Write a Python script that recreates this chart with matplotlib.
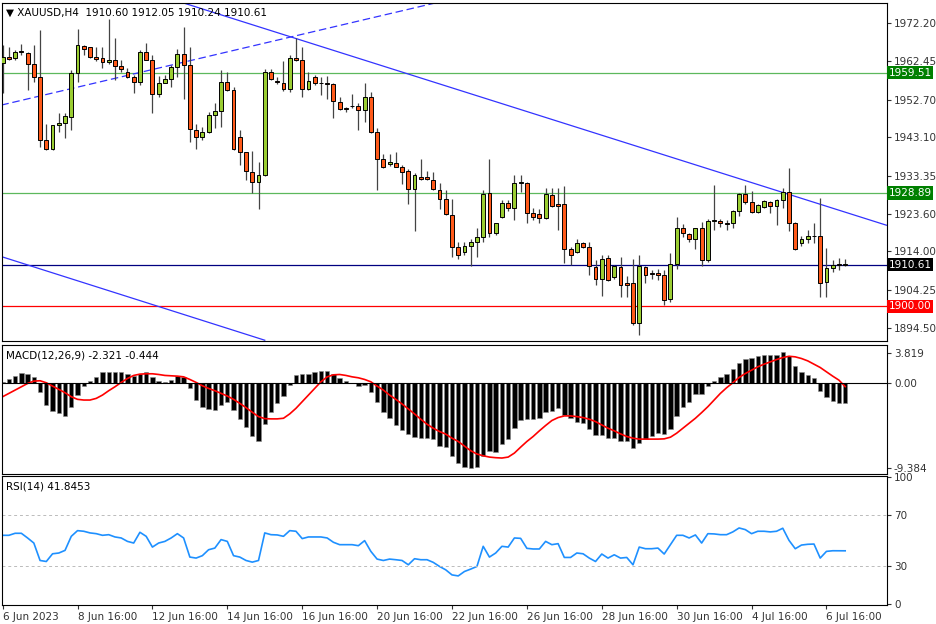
import matplotlib
matplotlib.use("Agg")
import matplotlib.pyplot as plt
import numpy as np

opens = [1961.9,1963.6,1963.2,1964.9,1964.6,1961.7,1958.5,1942.4,1940.0,1946.2,1946.7,1948.3,1959.4,1966.3,1966.0,1963.6,1963.4,1962.3,1962.9,1961.3,
1959.6,1958.4,1957.1,1964.9,1962.9,1954.1,1957.0,1957.9,1961.1,1964.3,1961.5,1944.9,1943.2,1944.4,1948.8,1949.9,1957.3,1955.1,1943.2,1939.3,
1934.2,1931.6,1933.5,1959.6,1957.4,1956.8,1955.3,1963.2,1962.7,1955.3,1958.5,1957.0,1956.8,1956.6,1952.2,1950.6,1951.1,1951.1,1950.0,1953.3,
1944.5,1937.5,1936.3,1936.6,1935.6,1934.6,1929.8,1933.1,1933.1,1932.1,1929.7,1927.3,1923.3,1915.2,1913.9,1915.4,1916.3,1917.6,1928.8,1918.6,
1922.7,1926.3,1925.0,1931.5,1931.5,1923.7,1923.5,1922.6,1928.4,1926.1,1926.1,1914.6,1913.9,1916.1,1915.2,1910.0,1906.9,1912.3,1907.4,1910.0,
1906.1,1906.1,1895.9,1910.0,1908.4,1908.6,1908.0,1901.8,1910.8,1919.9,1918.4,1917.1,1919.9,1911.8,1921.8,1921.8,1921.2,1921.2,1924.3,1928.6,
1926.7,1924.0,1925.4,1926.7,1925.6,1927.1,1929.2,1921.3,1916.1,1917.1,1917.9,1917.9,1906.3,1909.7,1910.7,1910.60]
closes = [1963.6,1963.1,1964.9,1964.8,1961.8,1958.5,1942.4,1940.0,1946.2,1946.7,1948.5,1959.4,1966.6,1965.5,1963.5,1963.1,1962.3,1962.9,1961.2,1960.5,
1958.4,1957.1,1964.9,1962.9,1954.1,1957.0,1957.9,1960.9,1964.2,1961.5,1945.1,1943.1,1944.4,1948.8,1949.9,1957.3,1955.1,1940.0,1939.4,1934.6,
1931.6,1933.5,1959.6,1957.9,1957.1,1955.3,1963.2,1962.7,1955.3,1957.4,1956.8,1956.8,1956.7,1952.3,1950.2,1950.3,1951.0,1950.0,1953.3,1944.5,
1937.5,1935.4,1936.7,1935.6,1934.3,1929.8,1933.5,1932.4,1932.4,1929.8,1927.3,1923.5,1915.2,1913.1,1915.5,1916.3,1917.6,1928.6,1918.6,1921.2,
1926.3,1925.0,1931.5,1931.5,1923.7,1922.9,1922.6,1928.6,1925.6,1925.6,1914.6,1913.1,1916.1,1915.1,1910.2,1906.9,1912.0,1906.7,1910.2,1905.5,
1905.5,1895.9,1910.2,1908.0,1908.3,1908.0,1901.7,1910.8,1919.9,1918.8,1917.1,1919.9,1911.8,1921.8,1921.8,1921.2,1921.0,1924.3,1928.6,1926.7,
1924.0,1925.8,1926.9,1925.6,1927.1,1929.2,1921.3,1914.6,1917.1,1917.9,1917.9,1906.1,1909.7,1910.6,1910.6,1910.61]
highs = [1966.6,1966.2,1965.3,1966.8,1964.9,1966.6,1970.4,1946.6,1946.2,1949.2,1949.2,1960.2,1970.8,1966.6,1966.2,1966.2,1966.2,1973.2,1968.3,1962.8,
1960.7,1958.9,1965.3,1967.0,1964.1,1958.7,1958.9,1961.5,1965.5,1971.3,1966.2,1946.6,1945.8,1949.6,1951.7,1960.2,1959.6,1956.0,1944.9,1939.4,
1939.7,1936.7,1960.4,1960.4,1958.4,1962.4,1964.1,1968.3,1966.2,1959.8,1958.9,1958.5,1958.7,1956.8,1953.4,1950.9,1954.1,1951.7,1956.8,1954.7,
1945.4,1938.8,1938.8,1939.4,1936.0,1934.9,1933.9,1937.5,1934.6,1934.3,1931.5,1929.7,1927.3,1916.5,1916.5,1917.1,1919.9,1929.7,1937.5,1921.3,
1927.1,1927.1,1933.5,1933.5,1931.8,1925.0,1924.7,1930.3,1930.3,1930.3,1930.7,1915.2,1917.1,1916.5,1916.5,1911.8,1913.1,1913.1,1910.6,1912.7,
1907.8,1912.0,1913.1,1910.3,1909.3,1909.5,1909.3,1913.7,1922.9,1921.0,1918.8,1919.9,1921.6,1922.2,1930.9,1922.2,1921.9,1924.6,1929.0,1930.9,
1929.5,1926.1,1927.1,1926.9,1927.3,1930.3,1935.2,1921.6,1917.9,1919.6,1921.3,1927.6,1914.8,1911.8,1912.3,1912.05]
lows = [1954.3,1962.8,1962.8,1964.1,1955.1,1957.3,1940.7,1939.9,1939.9,1944.5,1942.8,1944.9,1957.3,1964.1,1963.2,1962.4,1960.7,1961.8,1957.7,1959.8,
1958.1,1954.3,1956.4,1962.8,1949.2,1953.4,1956.8,1956.0,1958.4,1952.8,1942.0,1940.0,1942.4,1944.1,1945.4,1945.8,1955.0,1939.9,1936.0,1932.2,
1929.0,1924.7,1933.2,1957.7,1956.7,1955.0,1954.7,1962.6,1953.4,1955.1,1956.4,1953.9,1952.8,1947.9,1950.0,1949.6,1950.5,1944.9,1947.1,1944.3,
1929.7,1935.2,1935.9,1935.4,1931.2,1926.1,1919.1,1932.2,1932.2,1929.7,1924.7,1923.3,1912.7,1912.0,1913.1,1910.2,1912.7,1916.5,1917.8,1918.2,
1922.5,1924.2,1922.0,1929.2,1921.3,1922.0,1921.2,1922.2,1925.4,1919.5,1911.0,1910.6,1913.5,1914.8,1908.0,1905.5,1902.7,1906.6,1906.9,1902.5,
1902.5,1895.3,1892.7,1906.1,1906.9,1906.7,1900.4,1901.2,1909.5,1917.8,1916.5,1914.6,1910.2,1911.4,1919.5,1920.2,1919.5,1919.9,1923.0,1926.1,
1923.9,1923.7,1925.0,1923.7,1920.8,1925.0,1919.1,1914.4,1915.4,1916.1,1916.1,1902.5,1902.5,1908.9,1909.3,1910.24]

macd_hist = [0.10,0.42,0.80,1.10,1.06,0.68,-1.03,-2.55,-3.19,-3.50,-3.76,-2.81,-1.41,-0.38,0.19,0.68,1.18,1.22,1.22,1.22,
0.99,0.76,1.06,1.18,0.61,0.23,0.11,0.30,0.76,0.68,-0.65,-1.98,-2.81,-3.04,-3.12,-2.55,-2.17,-3.12,-4.14,-5.10,
-6.16,-6.65,-4.71,-3.31,-2.28,-1.52,-0.27,0.84,0.95,1.06,1.22,1.33,1.33,1.06,0.57,0.19,-0.08,-0.38,-0.27,-1.03,
-2.24,-3.31,-3.99,-4.83,-5.40,-5.89,-6.24,-6.35,-6.35,-6.46,-7.30,-7.38,-8.37,-9.20,-9.70,-9.77,-9.70,-8.37,-7.87,-7.95,
-7.00,-6.39,-5.21,-4.26,-4.18,-4.11,-3.99,-3.38,-3.19,-2.93,-3.69,-3.99,-4.45,-4.56,-5.32,-5.97,-5.97,-6.35,-6.35,-6.62,
-6.65,-7.49,-6.92,-6.46,-6.16,-5.78,-5.86,-5.32,-3.80,-2.74,-2.17,-1.33,-1.29,-0.38,0.23,0.68,1.06,1.56,2.28,2.78,
2.89,3.04,3.16,3.16,3.23,3.50,3.04,1.90,1.25,0.87,0.49,-0.91,-1.60,-2.05,-2.36,-2.32]
macd_signal = [-1.60,-1.22,-0.84,-0.46,-0.08,0.19,0.23,0.00,-0.38,-0.76,-1.14,-1.60,-1.90,-1.98,-1.98,-1.79,-1.41,-0.91,-0.46,0.04,
0.49,0.84,0.99,1.03,1.03,0.95,0.84,0.80,0.76,0.68,0.38,0.04,-0.34,-0.65,-0.91,-1.22,-1.52,-1.90,-2.36,-2.85,
-3.38,-3.88,-4.11,-4.14,-4.14,-4.07,-3.57,-2.93,-2.17,-1.41,-0.65,0.11,0.68,0.91,0.95,0.84,0.68,0.57,0.38,0.11,
-0.38,-0.84,-1.41,-1.90,-2.43,-3.00,-3.57,-4.18,-4.75,-5.21,-5.59,-5.89,-6.35,-6.73,-7.26,-7.79,-8.17,-8.37,-8.52,-8.59,
-8.63,-8.52,-8.06,-7.38,-6.73,-6.16,-5.51,-4.90,-4.33,-3.99,-3.80,-3.80,-3.88,-3.99,-4.18,-4.45,-4.83,-5.21,-5.51,-5.86,
-6.16,-6.35,-6.46,-6.46,-6.46,-6.46,-6.43,-6.24,-5.78,-5.21,-4.64,-4.07,-3.42,-2.74,-1.98,-1.22,-0.57,0.00,0.61,1.06,
1.44,1.83,2.13,2.40,2.66,2.89,3.04,2.97,2.78,2.51,2.13,1.75,1.25,0.76,0.30,-0.44]
rsi = [54.1,54.1,55.7,55.7,52.0,48.0,34.2,33.4,39.5,40.1,42.2,53.3,57.8,57.3,56.0,55.4,54.1,54.6,52.8,52.0,
49.3,48.0,56.5,53.3,44.8,48.0,49.3,52.0,55.4,52.0,36.9,36.1,38.0,42.7,44.0,50.7,49.3,38.0,36.9,34.2,
32.9,34.2,56.0,54.6,54.4,53.3,57.8,57.3,51.5,52.8,52.8,52.8,52.0,48.6,46.7,46.7,46.7,45.9,49.9,41.4,
35.3,34.2,35.3,34.8,34.2,30.8,35.6,34.8,34.8,32.7,29.5,26.8,22.8,22.0,25.5,27.4,29.5,45.4,36.9,40.1,
45.4,44.8,52.0,51.7,43.8,43.3,43.3,49.3,46.7,47.5,36.6,36.6,40.1,39.5,36.1,33.4,39.3,36.1,38.7,36.1,
36.6,30.8,44.8,43.5,43.5,44.0,39.3,46.7,54.1,54.1,52.0,54.4,48.0,55.4,55.2,54.6,54.6,56.8,59.9,58.6,
55.4,57.3,57.3,56.8,57.3,59.7,50.1,43.5,46.4,47.0,47.2,36.1,41.4,41.9,41.9,41.85]

date_labels = ["6 Jun 2023","8 Jun 16:00","12 Jun 16:00","14 Jun 16:00","16 Jun 16:00","20 Jun 16:00",
               "22 Jun 16:00","26 Jun 16:00","28 Jun 16:00","30 Jun 16:00","4 Jul 16:00","6 Jul 16:00"]
price_ticks = [1972.20,1962.45,1952.70,1943.10,1933.35,1923.60,1914.00,1904.25,1894.50]
levels = [1959.51,1928.89,1910.61,1900.00]
level_colors = ["#5cb85c","#5cb85c","#000080","#ff0000"]
label_bg = ["#008000","#008000","#000000","#ff0000"]
trend_dashed = ([-0.2,70.1],[1951.3,1977.6])
trend_upper = ([28.4,141.6],[1977.6,1920.7])
trend_lower = ([-0.2,42.0],[1912.7,1891.4])

n = len(closes)
x = np.arange(n)
W, H = 936, 624
fig = plt.figure(figsize=(W/100, H/100), dpi=100)
plt.rcParams['font.family'] = ['DejaVu Sans']
left = 2/W; width = 885/W
ax = fig.add_axes([left, 1-341/H, width, 338/H])
ax2 = fig.add_axes([left, 1-474/H, width, 129/H])
ax3 = fig.add_axes([left, 1-605/H, width, 129/H])
xl = (-0.1, 141.7)
fs = 7.5
for a in (ax, ax2, ax3):
    a.set_xlim(*xl)
    a.yaxis.tick_right()
    a.tick_params(axis='y', labelsize=fs, length=3, pad=2, colors='#333333')
    a.set_xticks([])
    for s in a.spines.values():
        s.set_color('black'); s.set_linewidth(0.8)

# candles
bull = np.array(closes) >= np.array(opens)
ax.vlines(x, lows, highs, color='#444444', lw=0.9, zorder=2)
bodyb = np.minimum(opens, closes); bodyh = np.abs(np.array(closes)-np.array(opens))
bodyh = np.maximum(bodyh, 0.15)
cols = ['#9acd32' if b else '#ff5a1a' for b in bull]
ax.bar(x, bodyh, bottom=bodyb, width=0.62, color=cols, edgecolor='black', linewidth=0.7, zorder=3)
for lv, c in zip(levels, level_colors):
    ax.axhline(lv, color=c, lw=0.9, zorder=1)
ax.plot(*trend_dashed, color='#3333ff', lw=0.9, ls=(0, (6, 3)), zorder=1)
ax.plot(*trend_upper, color='#3333ff', lw=0.9, zorder=1)
ax.plot(*trend_lower, color='#3333ff', lw=0.9, zorder=1)
ax.set_ylim(1891.2, 1977.3)
ax.set_yticks(price_ticks)
ax.set_yticklabels([f"{v:.2f}" for v in price_ticks])
for lv, bg in zip(levels, label_bg):
    ax.text(1.002, lv, f"{lv:.2f}", transform=ax.get_yaxis_transform(), fontsize=fs,
            color='white', va='center', ha='left',
            bbox=dict(boxstyle='square,pad=0.15', fc=bg, ec='none'))
ax.text(0.004, 0.985, "\u25bc XAUUSD,H4  1910.60 1912.05 1910.24 1910.61", transform=ax.transAxes,
        fontsize=fs, va='top', ha='left', color='black')

# MACD
ax2.bar(x, macd_hist, width=0.7, color='black', edgecolor='#888888', linewidth=0.4)
ax2.plot(x, macd_signal, color='red', lw=1.2)
ax2.axhline(0, color='black', lw=0.8)
ax2.set_ylim(-10.46, 4.33)
ax2.set_yticks([3.42, 0, -9.77])
ax2.set_yticklabels(["3.819", "0.00", "-9.384"])
ax2.text(0.004, 0.96, "MACD(12,26,9) -2.321 -0.444", transform=ax2.transAxes, fontsize=fs, va='top')

# RSI
ax3.plot(x, rsi, color='#1e90ff', lw=1.2)
for lv in (70, 30):
    ax3.axhline(lv, color='#bbbbbb', lw=0.7, ls=(0, (3, 3)))
ax3.set_ylim(-1, 101)
ax3.set_yticks([100, 70, 30, 0])
ax3.text(0.004, 0.96, "RSI(14) 41.8453", transform=ax3.transAxes, fontsize=fs, va='top')
tick_idx = [12*i for i in range(len(date_labels))]
ax3.set_xticks(tick_idx)
ax3.set_xticklabels(date_labels, ha='left', fontsize=fs)
ax3.tick_params(axis='x', length=3, pad=2, colors='#333333')
for lbl in ax3.get_xticklabels():
    lbl.set_x(lbl.get_position()[0])
fig.savefig("out.png", dpi=100)
